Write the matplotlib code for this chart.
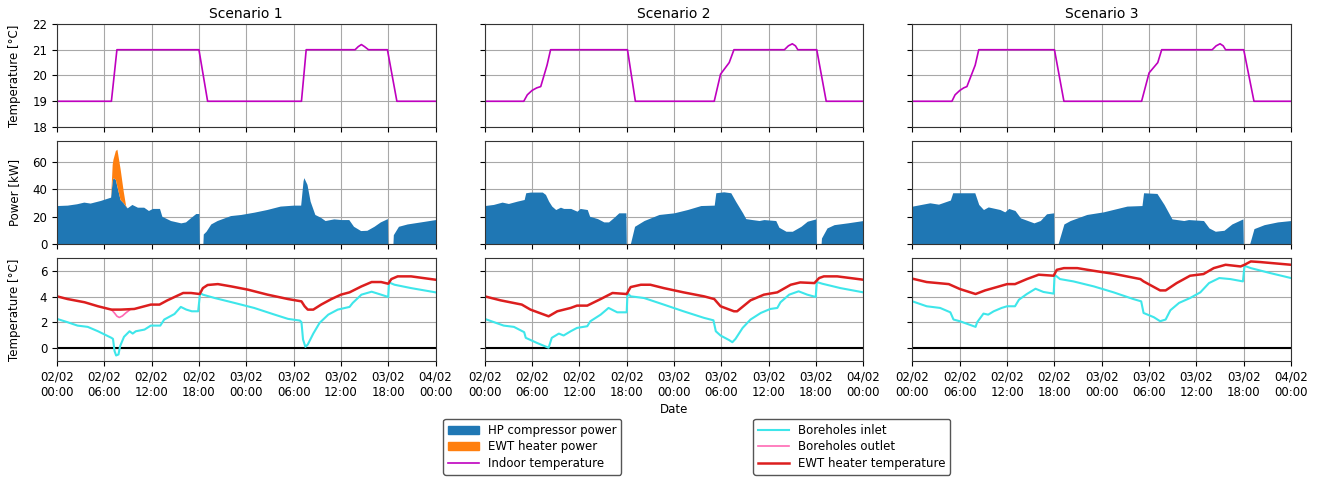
import matplotlib
matplotlib.use('Agg')
import matplotlib.pyplot as plt
import matplotlib.dates as mdates
from matplotlib.patches import Patch
from matplotlib.lines import Line2D
import numpy as np
import pandas as pd

start = pd.Timestamp('2023-02-02 00:00')
scenarios = ['Scenario 1', 'Scenario 2', 'Scenario 3']

# indoor temperature (hours, degC)
indoor_h1 = [0, 6.9, 7.6, 18.0, 19.1, 31.0, 31.6, 37.8, 38.2, 38.6, 39.0, 39.5, 41.9, 43.1, 48]
indoor_v1 = [19, 19, 21, 21, 19, 19, 21, 21, 21.12, 21.2, 21.12, 21, 21, 19, 19]
indoor_h2 = [0, 4.95, 5.4, 6.0, 6.6, 7.1, 7.9, 8.35, 18.1, 19.1, 29.1, 29.9, 31.0, 31.6,
             38.0, 38.5, 39.0, 39.4, 39.7, 42.1, 43.3, 48]
indoor_v2 = [19, 19, 19.25, 19.42, 19.52, 19.57, 20.4, 21, 21, 19, 19, 20.05, 20.5, 21,
             21, 21.15, 21.23, 21.15, 21, 21, 19, 19]
indoor_h3 = [0, 5.0, 5.4, 6.0, 6.5, 6.9, 7.95, 8.4, 18.0, 19.2, 29.05, 30.0, 31.1, 31.6,
             38.0, 38.5, 39.0, 39.4, 39.7, 42.0, 43.3, 48]
indoor_v3 = [19, 19, 19.25, 19.42, 19.52, 19.57, 20.4, 21, 21, 19, 19, 20.1, 20.5, 21,
             21, 21.15, 21.23, 21.15, 21, 21, 19, 19]

# HP compressor power and EWT heater power (hours, kW)
power_h1 = [0, 1.3, 2.5, 3.4, 4.2, 5.5, 6.3, 6.8, 7.0, 7.1, 7.4, 7.6, 8.0, 8.4, 8.7, 8.9,
            9.5, 10.2, 11.0, 11.6, 12.1, 13.0, 13.3, 14.4, 15.7, 16.3, 16.9, 17.6, 18.0,
            18.05, 18.5, 18.55, 18.9, 19.5, 20.3, 22.0, 23.3, 25.0, 26.6, 28.3, 30.0, 30.9,
            31.2, 31.3, 31.7, 32.1, 32.7, 33.4, 34.0, 35.1, 36.0, 37.0, 37.6, 38.5, 39.3,
            40.2, 41.0, 41.9, 41.95, 42.6, 42.65, 43.3, 44.4, 46.1, 48.0]
hp_power_1 = [28.0, 28.3, 29.3, 30.5, 29.8, 31.7, 33.2, 34.1, 46.0, 48.3, 47.0, 42.0, 32.4,
              30.0, 27.6, 26.3, 28.8, 26.8, 26.8, 24.4, 25.9, 25.9, 20.2, 17.1, 15.4, 16.1,
              19.0, 22.2, 22.2, 0, 0, 7.3, 9.3, 14.6, 17.1, 20.7, 21.5, 23.2, 25.1, 27.6,
              28.3, 28.3, 45.9, 48.3, 43.4, 31.2, 21.5, 19.5, 17.1, 18.3, 17.8, 17.8, 12.9,
              9.8, 10.0, 12.9, 16.1, 18.5, 0, 0, 6.8, 12.9, 14.6, 16.1, 17.8]
ewt_power_1 = [0, 0, 0, 0, 0, 0, 0, 0, 12.0, 13.4, 21.0, 27.0, 22.6, 8.5, 0.5, 0,
               0, 0, 0, 0, 0, 0, 0, 0, 0, 0, 0, 0, 0,
               0, 0, 0, 0, 0, 0, 0, 0, 0, 0, 0, 0, 0,
               0, 0, 0, 0, 0, 0, 0, 0, 0, 0, 0, 0, 0,
               0, 0, 0, 0, 0, 0, 0, 0, 0, 0]

power_h2 = [0, 1.1, 2.2, 3.0, 4.1, 5.0, 5.2, 5.8, 7.3, 7.7, 8.1, 8.5, 9.0, 9.6, 10.0, 10.9,
            11.7, 12.1, 13.0, 13.3, 14.3, 15.1, 15.7, 16.4, 17.0, 17.9, 17.95, 18.45, 18.5,
            19.0, 20.2, 22.1, 24.0, 25.7, 27.4, 29.1, 29.3, 30.3, 31.2, 31.8, 32.7, 33.1,
            33.9, 34.8, 35.4, 36.9, 37.3, 38.2, 39.0, 40.1, 40.9, 42.0, 42.05, 42.65, 42.7,
            43.4, 44.3, 46.0, 48.0]
hp_power_2 = [28.0, 28.8, 30.5, 29.5, 31.2, 32.4, 37.3, 37.8, 37.8, 36.1, 31.2, 27.6, 25.1,
              26.8, 25.9, 25.9, 23.9, 25.9, 25.1, 20.2, 18.5, 16.1, 16.1, 19.5, 22.7, 22.7,
              0, 0, 1.0, 12.9, 17.1, 21.5, 22.7, 25.1, 28.0, 28.3, 37.3, 38.0, 37.3, 31.2,
              22.7, 18.5, 17.8, 17.1, 17.8, 17.1, 12.2, 9.3, 9.3, 12.9, 16.6, 18.3, 0, 0,
              4.4, 11.7, 14.1, 15.4, 17.1]

power_h3 = [0, 2.2, 3.3, 4.8, 5.1, 7.9, 8.4, 9.0, 9.6, 11.1, 11.7, 12.2, 13.0, 13.7, 15.4,
            16.2, 17.0, 17.9, 17.95, 18.45, 18.5, 19.2, 20.0, 22.1, 24.2, 27.2, 29.1, 29.3,
            31.0, 31.9, 32.9, 34.4, 35.0, 36.9, 37.6, 38.4, 39.5, 40.5, 41.9, 41.95, 42.75,
            42.8, 43.3, 44.6, 46.3, 48.0]
hp_power_3 = [27.6, 30.0, 29.0, 32.0, 37.3, 37.3, 28.8, 25.1, 27.0, 25.1, 23.4, 25.9, 24.4,
              19.0, 15.4, 17.1, 22.0, 22.7, 0, 0, 1.0, 14.6, 17.1, 21.5, 23.4, 27.6, 28.0,
              37.3, 36.8, 28.8, 18.3, 17.1, 17.8, 17.1, 11.7, 9.3, 10.0, 14.6, 18.3, 0, 0,
              1.0, 11.2, 14.1, 16.1, 17.1]

# borehole / EWT temperatures (hours, degC)
ewt_h1 = [0, 1.35, 3.5, 5.2, 6.9, 8.1, 9.8, 11.9, 13.0, 14.0, 16.0, 17.0, 18.1, 18.5, 19.1,
          20.4, 22.1, 24.2, 26.7, 29.3, 31.0, 31.4, 31.8, 32.5, 33.5, 34.8, 36.0, 37.1,
          38.6, 39.9, 41.1, 42.0, 42.4, 43.2, 44.9, 48.0]
ewt_t1 = [4.02, 3.81, 3.56, 3.25, 2.99, 2.99, 3.04, 3.38, 3.38, 3.71, 4.28, 4.28, 4.2, 4.66,
          4.9, 4.97, 4.79, 4.54, 4.15, 3.81, 3.63, 3.25, 2.99, 2.99, 3.38, 3.81, 4.15, 4.33,
          4.79, 5.13, 5.13, 5.0, 5.36, 5.57, 5.57, 5.31]
outlet_h1 = [6.9, 7.3, 7.6, 7.9, 8.3, 8.7, 9.2]
outlet_t1 = [2.99, 2.72, 2.48, 2.38, 2.5, 2.72, 2.96]
inlet_h1 = [0, 1.35, 2.6, 3.9, 5.2, 6.9, 7.1, 7.3, 7.5, 7.8, 8.0, 8.5, 9.2, 9.6, 10.0, 11.1,
            11.9, 13.1, 13.6, 14.9, 15.7, 16.4, 17.1, 17.9, 18.15, 18.5, 20.0, 22.5, 25.0,
            27.6, 29.3, 30.8, 31.0, 31.2, 31.5, 31.8, 32.5, 33.3, 34.4, 35.6, 37.1, 37.5,
            38.6, 39.9, 41.1, 42.0, 42.1, 42.8, 44.9, 48.0]
inlet_t1 = [2.27, 2.01, 1.75, 1.65, 1.31, 0.8, 0.72, -0.23, -0.57, -0.49, 0.15, 0.88, 1.31,
            1.13, 1.31, 1.44, 1.75, 1.75, 2.22, 2.65, 3.2, 2.99, 2.86, 2.86, 4.28, 4.15, 3.89,
            3.51, 3.12, 2.6, 2.27, 2.14, 2.01, 0.67, 0.1, 0.28, 1.13, 1.96, 2.6, 2.99, 3.2,
            3.51, 4.15, 4.38, 4.15, 3.97, 5.1, 4.92, 4.66, 4.33]

ewt_h2 = [0, 2.0, 4.7, 5.8, 8.1, 9.2, 10.9, 11.7, 13.0, 14.7, 16.2, 18.0, 18.5, 19.8, 21.0,
          22.7, 25.2, 27.8, 29.1, 29.9, 31.6, 32.0, 33.7, 35.4, 37.1, 38.8, 40.0, 41.8, 42.4,
          43.0, 44.7, 48.0]
ewt_t2 = [4.02, 3.71, 3.38, 2.99, 2.47, 2.86, 3.12, 3.3, 3.3, 3.81, 4.28, 4.2, 4.74, 4.92,
          4.92, 4.66, 4.33, 4.02, 3.81, 3.25, 2.86, 2.86, 3.71, 4.15, 4.33, 4.92, 5.1, 5.05,
          5.44, 5.57, 5.57, 5.31]
inlet_h2 = [0, 2.4, 3.7, 5.0, 5.2, 6.6, 7.9, 8.1, 8.5, 9.4, 10.0, 10.9, 11.7, 13.0, 13.4,
            14.7, 15.7, 16.8, 18.0, 18.1, 18.5, 20.2, 22.7, 25.2, 27.8, 29.0, 29.3, 29.9,
            31.0, 31.4, 31.8, 32.7, 33.7, 35.0, 36.2, 37.1, 37.5, 38.6, 39.8, 40.9, 41.97,
            42.1, 42.8, 45.1, 48.0]
inlet_t2 = [2.27, 1.75, 1.65, 1.24, 0.8, 0.41, 0.08, 0.03, 0.8, 1.13, 0.98, 1.31, 1.57, 1.7,
            2.09, 2.6, 3.12, 2.78, 2.78, 4.28, 4.02, 3.89, 3.38, 2.86, 2.35, 2.16, 1.31, 0.98,
            0.62, 0.46, 0.72, 1.57, 2.22, 2.73, 3.04, 3.12, 3.56, 4.15, 4.41, 4.15, 3.97,
            5.13, 5.0, 4.66, 4.33]

ewt_h3 = [0, 1.8, 4.6, 6.0, 8.0, 9.2, 10.7, 12.0, 13.0, 14.5, 16.0, 17.9, 18.3, 19.2, 20.9,
          23.0, 25.5, 28.9, 29.3, 31.4, 32.1, 33.5, 35.2, 36.9, 38.2, 39.7, 41.6, 42.1, 42.9,
          44.1, 48.0]
ewt_t3 = [5.39, 5.13, 4.97, 4.59, 4.2, 4.48, 4.74, 4.97, 4.97, 5.36, 5.7, 5.62, 6.08, 6.21,
          6.21, 6.0, 5.77, 5.36, 5.18, 4.48, 4.48, 5.05, 5.62, 5.75, 6.21, 6.47, 6.34, 6.47,
          6.73, 6.68, 6.47]
inlet_h3 = [0, 1.8, 3.5, 4.8, 5.2, 6.0, 8.0, 8.2, 9.0, 9.6, 10.3, 11.3, 12.0, 13.0, 13.5,
            14.5, 15.6, 16.6, 17.9, 18.02, 18.7, 20.4, 23.0, 25.5, 28.0, 29.0, 29.3, 30.6,
            31.4, 32.1, 32.7, 33.8, 35.2, 36.5, 37.6, 38.9, 40.3, 41.9, 42.1, 42.9, 45.4, 48.0]
inlet_t3 = [3.63, 3.25, 3.12, 2.78, 2.22, 2.09, 1.65, 2.01, 2.68, 2.6, 2.86, 3.12, 3.25, 3.25,
            3.76, 4.2, 4.61, 4.36, 4.23, 5.7, 5.36, 5.18, 4.79, 4.33, 3.81, 3.63, 2.73, 2.4,
            2.09, 2.22, 2.94, 3.51, 3.89, 4.33, 5.05, 5.44, 5.36, 5.18, 6.39, 6.21, 5.82, 5.44]

indoor = [(indoor_h1, indoor_v1), (indoor_h2, indoor_v2), (indoor_h3, indoor_v3)]
power = [(power_h1, hp_power_1), (power_h2, hp_power_2), (power_h3, hp_power_3)]
ewt = [(ewt_h1, ewt_t1), (ewt_h2, ewt_t2), (ewt_h3, ewt_t3)]
inlet = [(inlet_h1, inlet_t1), (inlet_h2, inlet_t2), (inlet_h3, inlet_t3)]


def to_time(hours):
    return start + pd.to_timedelta(np.asarray(hours, dtype=float), unit='h')


c_hp = '#1f77b4'
c_heater = '#ff7f0e'
c_indoor = 'm'
c_inlet = '#3ee6ea'
c_outlet = '#ff69b4'
c_ewt = '#dc1e1e'

plt.rcParams['font.size'] = 8.5

fig, axes = plt.subplots(3, 3, figsize=(13.19, 4.79), dpi=100, sharex=True, sharey='row')
fig.subplots_adjust(left=0.0432, right=0.9788, top=0.95, bottom=0.2463,
                    hspace=0.135, wspace=0.13)

for j in range(3):
    ax1, ax2, ax3 = axes[0, j], axes[1, j], axes[2, j]

    ax1.plot(to_time(indoor[j][0]), indoor[j][1], color=c_indoor, lw=1.2)
    ax1.set_title(scenarios[j], fontsize=10, pad=4)

    t = to_time(power[j][0])
    ax2.fill_between(t, 0, power[j][1], color=c_hp, lw=0)
    if j == 0:
        top = np.array(hp_power_1) + np.array(ewt_power_1)
        ax2.fill_between(t, hp_power_1, top, where=np.array(ewt_power_1) > 0,
                         interpolate=True, color=c_heater, lw=0)

    ax3.axhline(0, color='black', lw=1.5)
    ax3.plot(to_time(inlet[j][0]), inlet[j][1], color=c_inlet, lw=1.5)
    if j == 0:
        ax3.plot(to_time(outlet_h1), outlet_t1, color=c_outlet, lw=1.2)
    ax3.plot(to_time(ewt[j][0]), ewt[j][1], color=c_ewt, lw=1.8)

    for ax in (ax1, ax2, ax3):
        ax.grid(True, color='#a8a8a8', lw=0.8)
        ax.set_axisbelow(True)
        for s in ax.spines.values():
            s.set_color('#333333')

axes[0, 0].set_ylim(18, 22)
axes[0, 0].set_yticks([18, 19, 20, 21, 22])
axes[1, 0].set_ylim(0, 75)
axes[1, 0].set_yticks([0, 20, 40, 60])
axes[2, 0].set_ylim(-1, 7)
axes[2, 0].set_yticks([0, 2, 4, 6])

axes[0, 0].set_ylabel('Temperature [°C]')
axes[1, 0].set_ylabel('Power [kW]')
axes[2, 0].set_ylabel('Temperature [°C]')
for ax in axes[:, 0]:
    ax.yaxis.set_label_coords(-0.095, 0.5)

axes[2, 0].set_xlim(start, start + pd.Timedelta(hours=48))
axes[2, 0].xaxis.set_major_locator(mdates.HourLocator(byhour=[0, 6, 12, 18]))
axes[2, 0].xaxis.set_major_formatter(mdates.DateFormatter('%d/%m\n%H:%M'))

fig.text(0.511, 0.145, 'Date', ha='center', va='center', fontsize=8.5)

h1 = [Patch(color=c_hp, label='HP compressor power'),
      Patch(color=c_heater, label='EWT heater power'),
      Line2D([], [], color=c_indoor, lw=1.2, label='Indoor temperature')]
h2 = [Line2D([], [], color=c_inlet, lw=1.5, label='Boreholes inlet'),
      Line2D([], [], color=c_outlet, lw=1.2, label='Boreholes outlet'),
      Line2D([], [], color=c_ewt, lw=1.8, label='EWT heater temperature')]
leg_kw = dict(loc='upper left', borderaxespad=0, fontsize=8.5, edgecolor='#555555',
              fancybox=True, framealpha=1, handlelength=2.6, labelspacing=0.3)
fig.legend(handles=h1, bbox_to_anchor=(0.336, 0.125), **leg_kw)
fig.legend(handles=h2, bbox_to_anchor=(0.571, 0.125), **leg_kw)

fig.savefig('out.png', dpi=100)
